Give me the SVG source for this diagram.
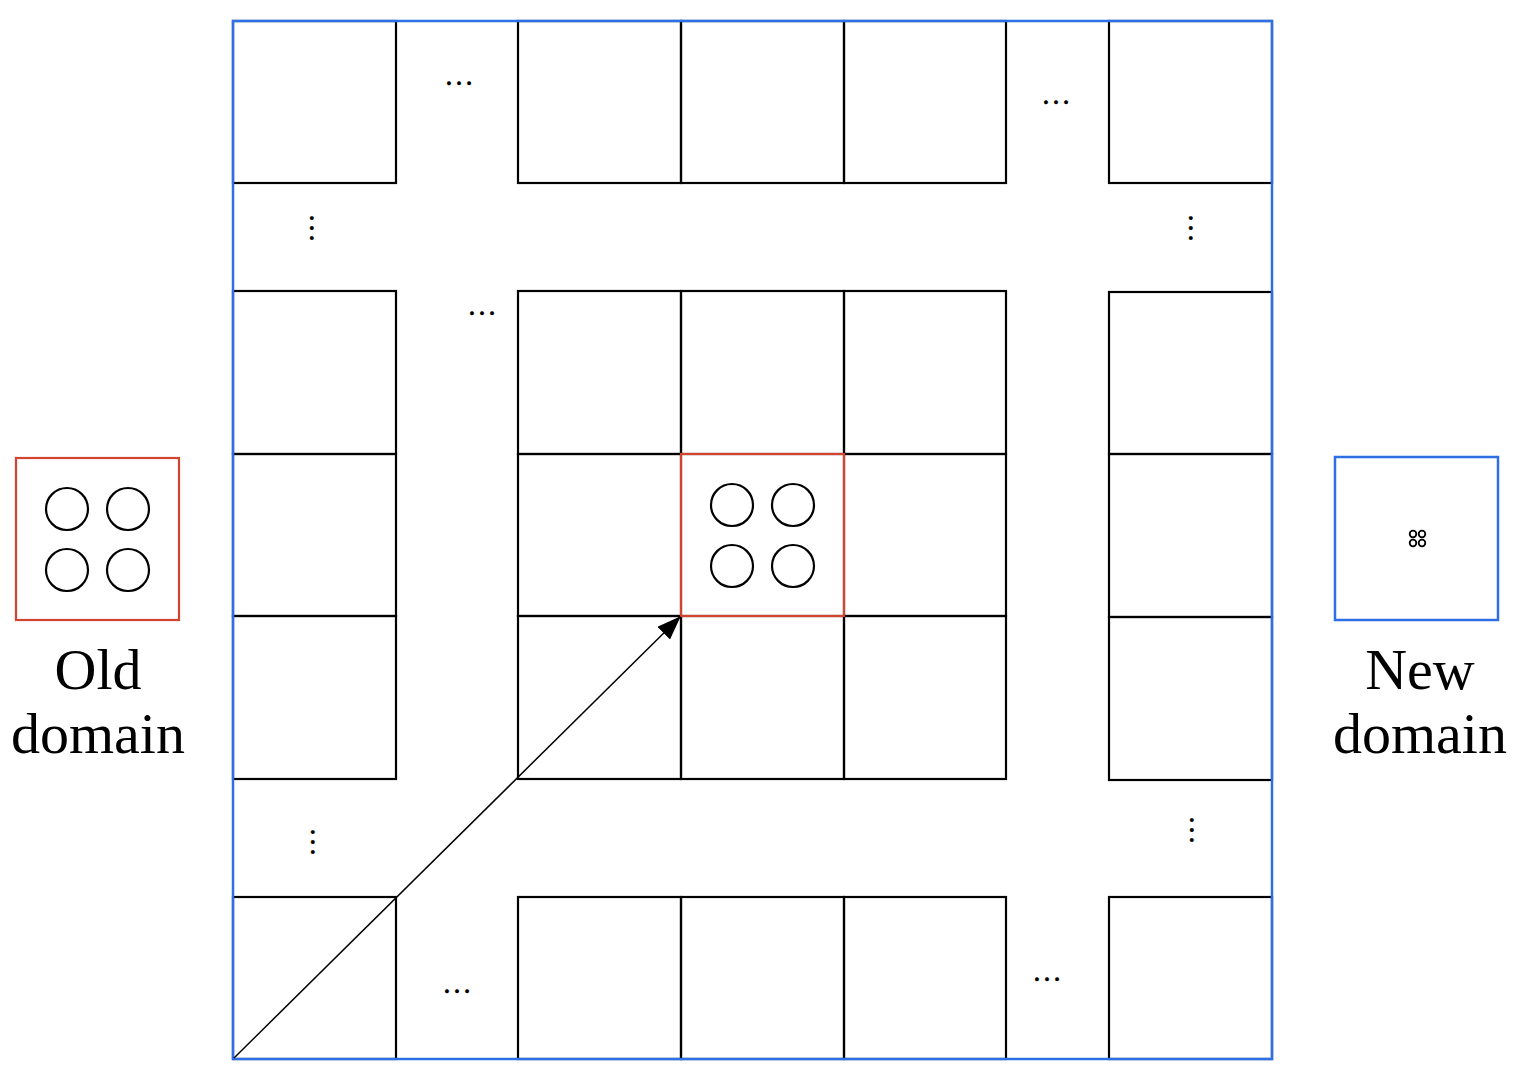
<svg xmlns="http://www.w3.org/2000/svg" width="1527" height="1076" viewBox="0 0 1527 1076">
<style>
.cell{fill:none;stroke:#000;stroke-width:2.2}
.blue{fill:none;stroke:#2f6fe6;stroke-width:2.5}
.red{fill:none;stroke:#d2442f;stroke-width:2.2}
.c{fill:none;stroke:#000;stroke-width:2.2}
.cs{fill:none;stroke:#000;stroke-width:1.8}
.dots{font-family:"Liberation Serif",serif;font-size:30px;fill:#000;stroke:#000;stroke-width:0.4;text-anchor:middle}
.lbl{font-family:"Liberation Serif",serif;font-size:58px;fill:#000;text-anchor:middle}
</style>
<defs>
<marker id="ah2" viewBox="0 0 24 18" refX="23" refY="9" markerWidth="24" markerHeight="18" orient="auto" markerUnits="userSpaceOnUse">
<path d="M0,0 L24,9 L0,18 Z" fill="#000"/>
</marker>
</defs>
<rect width="1527" height="1076" fill="#fff"/>
<g id="grid">
<rect class="cell" x="233" y="21" width="163" height="162"/>
<rect class="cell" x="518" y="21" width="163" height="162"/>
<rect class="cell" x="681" y="21" width="163" height="162"/>
<rect class="cell" x="844" y="21" width="162" height="162"/>
<rect class="cell" x="1109" y="21" width="163" height="162"/>
<rect class="cell" x="233" y="291" width="163" height="163"/>
<rect class="cell" x="233" y="454" width="163" height="162"/>
<rect class="cell" x="233" y="616" width="163" height="163"/>
<rect class="cell" x="518" y="291" width="163" height="163"/>
<rect class="cell" x="681" y="291" width="163" height="163"/>
<rect class="cell" x="844" y="291" width="162" height="163"/>
<rect class="cell" x="518" y="454" width="163" height="162"/>
<rect class="cell" x="844" y="454" width="162" height="162"/>
<rect class="cell" x="518" y="616" width="163" height="163"/>
<rect class="cell" x="681" y="616" width="163" height="163"/>
<rect class="cell" x="844" y="616" width="162" height="163"/>
<rect class="cell" x="1109" y="292" width="163" height="162"/>
<rect class="cell" x="1109" y="454" width="163" height="163"/>
<rect class="cell" x="1109" y="617" width="163" height="163"/>
<rect class="cell" x="233" y="897" width="163" height="162"/>
<rect class="cell" x="518" y="897" width="163" height="162"/>
<rect class="cell" x="681" y="897" width="163" height="162"/>
<rect class="cell" x="844" y="897" width="162" height="162"/>
<rect class="cell" x="1109" y="897" width="163" height="162"/>
<rect class="blue" x="233" y="21" width="1039" height="1038"/>
</g>
<g id="ellipses">
<text class="dots" x="459" y="85">…</text>
<text class="dots" x="1056" y="104">…</text>
<text class="dots" x="482" y="315">…</text>
<text class="dots" x="457" y="993">…</text>
<text class="dots" x="1047" y="981">…</text>
<text class="dots" transform="translate(312,228) rotate(90)" y="2.5">…</text>
<text class="dots" transform="translate(1191,228) rotate(90)" y="2.5">…</text>
<text class="dots" transform="translate(313,842) rotate(90)" y="2.5">…</text>
<text class="dots" transform="translate(1192,830) rotate(90)" y="2.5">…</text>
</g>
<g id="center-cell">
<rect class="red" x="681" y="454" width="163" height="162"/>
<circle class="c" cx="732" cy="505" r="21"/>
<circle class="c" cx="793" cy="505" r="21"/>
<circle class="c" cx="732" cy="566" r="21"/>
<circle class="c" cx="793" cy="566" r="21"/>
</g>
<g id="old-domain">
<rect class="red" x="16" y="458" width="163" height="162"/>
<circle class="c" cx="67" cy="509" r="21"/>
<circle class="c" cx="128" cy="509" r="21"/>
<circle class="c" cx="67" cy="570" r="21"/>
<circle class="c" cx="128" cy="570" r="21"/>
<text class="lbl" x="98" y="689">Old</text>
<text class="lbl" x="98" y="753">domain</text>
</g>
<g id="new-domain">
<rect class="blue" x="1335" y="457" width="163" height="163"/>
<circle class="cs" cx="1413" cy="534" r="3.3"/>
<circle class="cs" cx="1422" cy="534" r="3.3"/>
<circle class="cs" cx="1413" cy="543" r="3.3"/>
<circle class="cs" cx="1422" cy="543" r="3.3"/>
<text class="lbl" x="1420" y="689">New</text>
<text class="lbl" x="1420" y="753">domain</text>
</g>
<g id="connectors">
<line x1="234" y1="1058" x2="680" y2="617" stroke="#000" stroke-width="1.5" marker-end="url(#ah2)"/>
</g>
</svg>
